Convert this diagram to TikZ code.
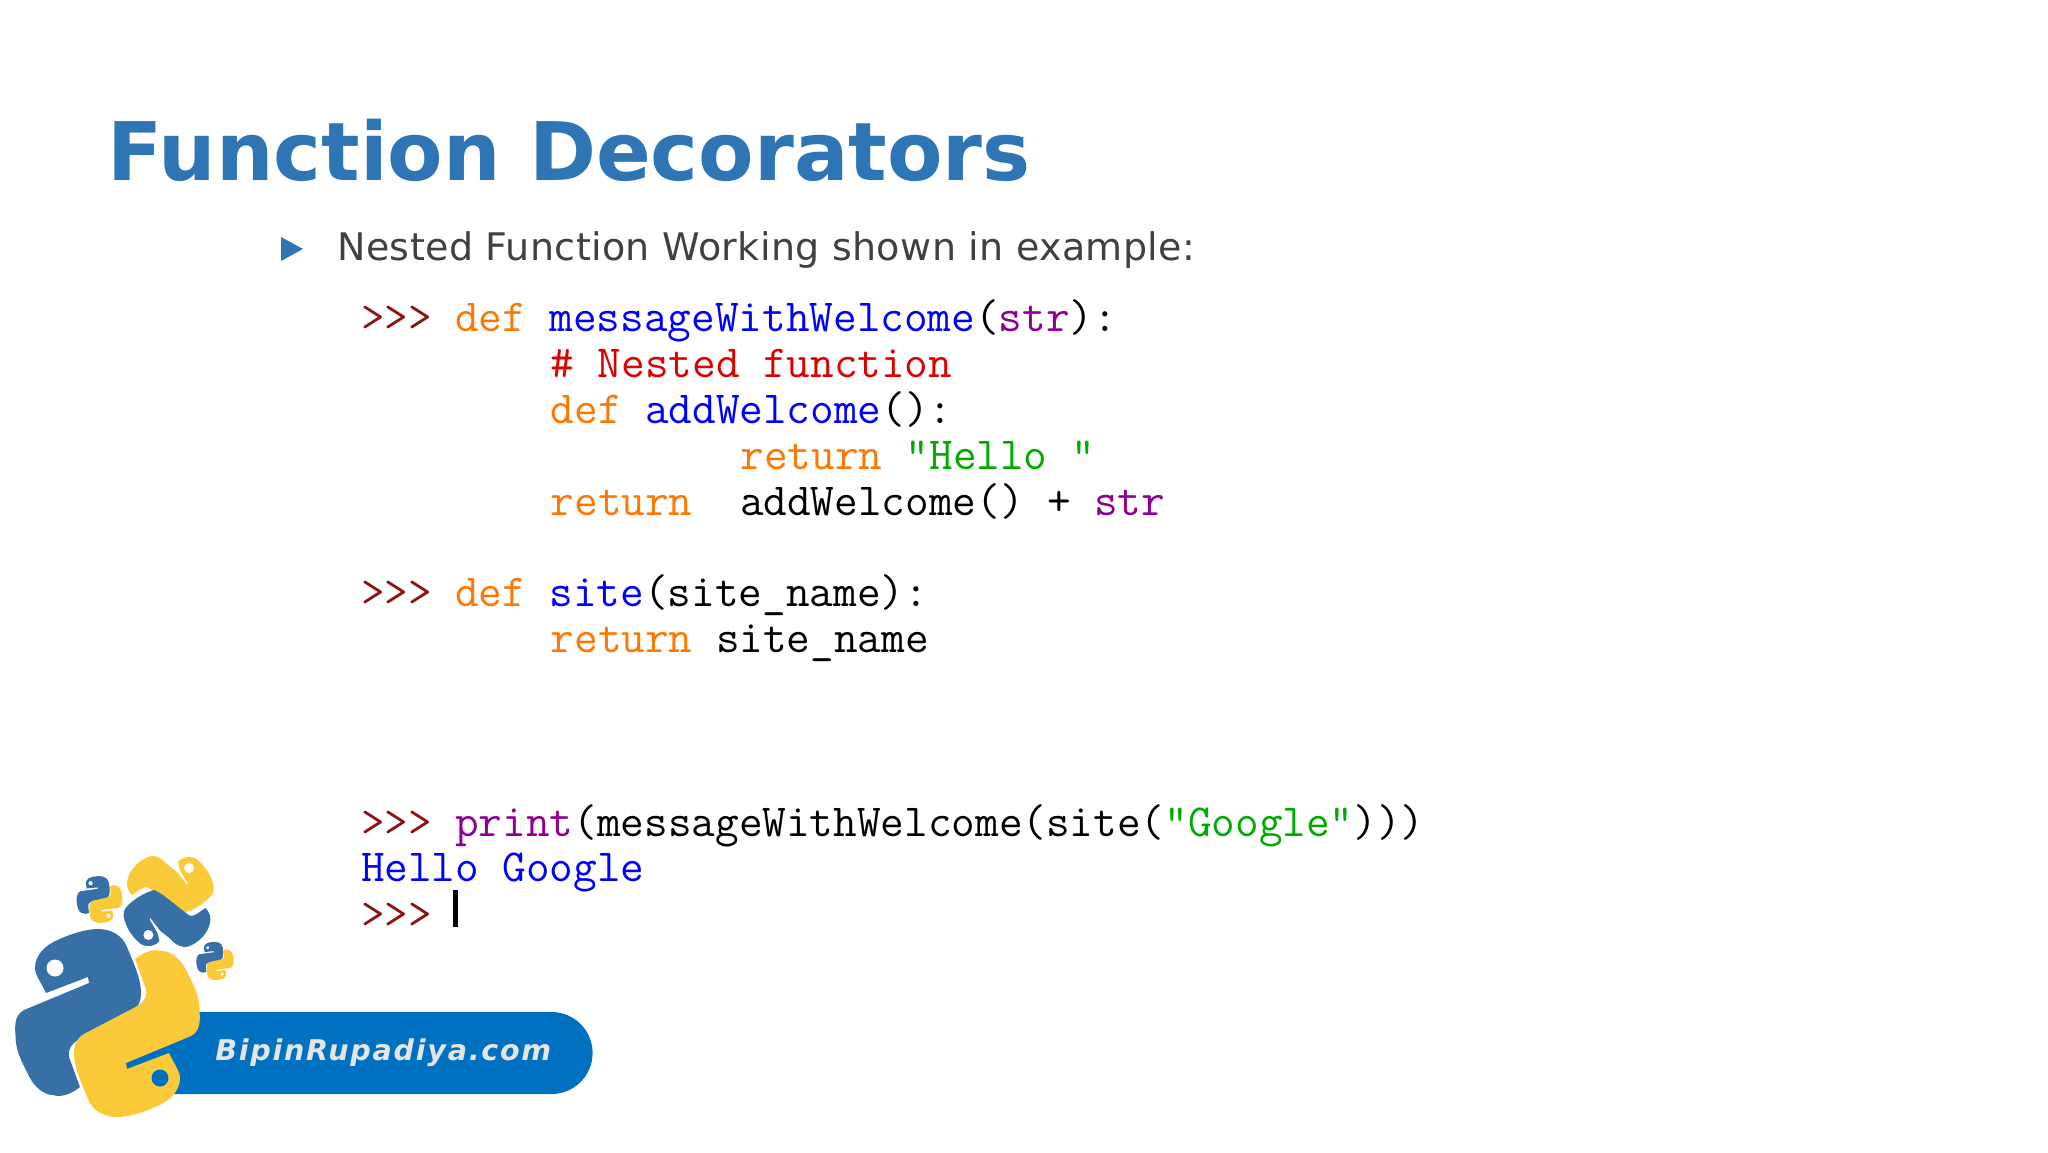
\documentclass[tikz,border=0pt]{standalone}
\usepackage{fontspec}
\setmainfont{DejaVu Sans}
\definecolor{titleblue}{HTML}{2E75B6}
\definecolor{bodygrey}{HTML}{404040}
\definecolor{pillblue}{HTML}{0070C0}
\definecolor{snakeblue}{HTML}{3670A6}
\definecolor{snakeyellow}{HTML}{FBCA38}
\definecolor{promptred}{HTML}{8B1414}
\definecolor{kworange}{HTML}{FF7700}
\definecolor{defblue}{HTML}{0000FF}
\definecolor{cmtred}{HTML}{DD0000}
\definecolor{strgreen}{HTML}{00AA00}
\definecolor{bltpurple}{HTML}{900090}
\newcommand{\cols}[1]{\hspace*{#1\dimexpr 11.72pt\relax}}
\newcommand{\lead}[1]{\hspace*{#1\dimexpr 11.86pt\relax}}
\newcommand{\prompt}{\textcolor{promptred}{>>>}\cols{1}}
\newcommand{\kw}[1]{\textcolor{kworange}{#1}}
\newcommand{\dn}[1]{\textcolor{defblue}{#1}}
\newcommand{\bi}[1]{\textcolor{bltpurple}{#1}}
\newcommand{\st}[1]{\textcolor{strgreen}{#1}}
\newcommand{\cm}[1]{\textcolor{cmtred}{#1}}
\newcommand{\halfbody}{(-61.5,-30) .. controls (-66,-40) and (-72.5,-48) .. (-72.5,-55)
  .. controls (-72.5,-68) and (-62,-78) .. (-50,-83)
  .. controls (-35,-90) and (-20,-94) .. (-9.5,-94)
  .. controls (3,-94) and (15,-88) .. (19.5,-76)
  .. controls (26,-60) and (33.5,-45) .. (33.5,-30)
  .. controls (33.5,-20) and (30,-15) .. (23.5,-11)
  -- (-28,16) .. controls (-37,21) and (-40,28) .. (-38.5,34)
  -- (-27.5,64) .. controls (-35,70) and (-45,75) .. (-54.5,72)
  .. controls (-66,72) and (-76,60) .. (-80,50)
  .. controls (-86,38) and (-92,28) .. (-92,12)
  .. controls (-93,0) and (-92,-8) .. (-83.5,-13)
  -- (-18.5,-40) -- (-19.5,-46) -- cycle}
\newcommand{\halfturned}{(11.3,-31.5) -- (9.3,-39.5)
  .. controls (12,-43) and (17,-45) .. (21.3,-44.5)
  .. controls (27,-44) and (29,-42) .. (31.3,-39.5)
  .. controls (38,-33) and (42,-26) .. (44.3,-18.5)
  .. controls (46,-12) and (45,-8) .. (41.3,-4.5)
  .. controls (34,3) and (24,9) .. (14.3,11.5)
  .. controls (11,10) and (8,8) .. (5,6)
  -- (-18,-12) .. controls (-21,-15) and (-24,-15) .. (-28,-12.5)
  -- (-36.7,-6.5) .. controls (-40,-10) and (-42,-14) .. (-41.7,-18.5)
  .. controls (-41,-27) and (-36,-34) .. (-30,-39)
  .. controls (-25,-43) and (-20,-45.5) .. (-15.7,-45.5)
  .. controls (-9,-45) and (-5,-41) .. (-0.7,-36.5)
  -- (8.3,-29.5) -- (18.3,-16.5) -- (19.3,-17.5) -- cycle}
\tikzset{
  pics/pythonlogo/.style={code={
    \fill[snakeblue] \halfbody;
    \fill[white] (-52.5,-55) circle (8.5);
    \begin{scope}[rotate=180]
      \fill[snakeyellow] \halfbody;
      \fill[#1] (-52.5,-55) circle (8.5);
    \end{scope}
  }},
  pics/turnedlogo/.style={code={
    \fill[snakeyellow] \halfturned;
    \fill[white] (20.3,-33.5) circle (5);
    \begin{scope}[rotate=180]
      \fill[snakeblue] \halfturned;
      \fill[white] (20.3,-33.5) circle (5);
    \end{scope}
  }}
}
\begin{document}
\begin{tikzpicture}[x=0.5pt, y=-0.5pt, node distance={22.95pt},
    titletext/.style = {inner sep=0pt, anchor=base west, text=titleblue, font=\fontsize{40.4}{40.4}\selectfont\bfseries},
    bodytext/.style = {inner sep=0pt, anchor=base west, text=bodygrey, font=\fontsize{19}{19}\selectfont\addfontfeature{LetterSpace=1}},
    codeline/.style = {inner sep=0pt, text width=400pt, text height=15pt, text depth=4pt, align=left, font=\fontsize{22.95}{22.95}\selectfont\ttfamily},
    pill/.style = {fill=pillblue, rounded corners=20.5pt, minimum width=236.5pt, minimum height=41pt, inner sep=0pt}]
  \useasboundingbox (0,0) rectangle (2048,1152);

  \node[titletext] (title) at (107,180) {Function Decorators};
  \fill[titleblue] (281,237) -- (303,249) -- (281,261) -- cycle;
  \node[bodytext] (intro) at (337,260) {Nested Function Working shown in example:};

  \node[codeline] (l1) at (761,320.5) {\prompt\kw{def}\cols{1}\dn{messageWithWelcome}(\bi{str}):};
  \node[codeline] (l2) [below of=l1] {\lead{8}\cm{\#\cols{1}Nested\cols{1}function}};
  \node[codeline] (l3) [below of=l2] {\lead{8}\kw{def}\cols{1}\dn{addWelcome}():};
  \node[codeline] (l4) [below of=l3] {\lead{16}\kw{return}\cols{1}\st{"Hello\cols{1}"}};
  \node[codeline] (l5) [below of=l4] {\lead{8}\kw{return}\lead{2}addWelcome()\cols{1}+\cols{1}\bi{str}};
  \node[codeline] (l6) [below of=l5, node distance={45.9pt}] {\prompt\kw{def}\cols{1}\dn{site}(site\_name):};
  \node[codeline] (l7) [below of=l6] {\lead{8}\kw{return}\cols{1}site\_name};
  \node[codeline] (l8) [below of=l7, node distance={91.8pt}] {\prompt\bi{print}(messageWithWelcome(site(\st{"Google"})))};
  \node[codeline] (l9) [below of=l8, node distance={22.6pt}] {\dn{Hello\cols{1}Google}};
  \node[codeline] (l10) [below of=l9, node distance={23.2pt}] {\prompt};
  \fill[black] (453,890) rectangle (458,927);

  \node[pill, anchor=east] (badge) at (593,1053) {};
  \node[inner sep=0pt, anchor=base west, text=white!90!black, font=\fontsize{14.3}{14.3}\selectfont\bfseries\itshape\addfontfeature{LetterSpace=6}] (site) at (215,1060) {BipinRupadiya.com};

  \pic at (107.5,1023) {pythonlogo=pillblue};
  \pic[scale=0.245, rotate=-15] at (99.5,899.5) {pythonlogo=white};
  \pic[scale=0.2, rotate=-15] at (215,961) {pythonlogo=white};
  \pic at (168.7,901.5) {turnedlogo};
\end{tikzpicture}
\end{document}
